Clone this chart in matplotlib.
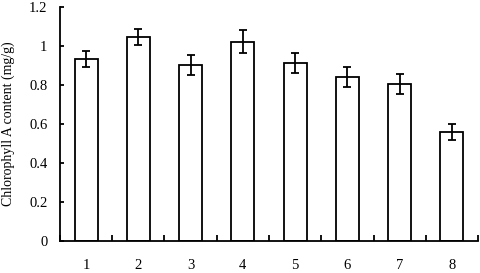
import numpy as np
import matplotlib
matplotlib.use('Agg')
import matplotlib.pyplot as plt
from matplotlib.ticker import FixedLocator

plt.rcParams['font.family'] = ['Liberation Serif', 'DejaVu Serif']

grupos = ['1', '2', '3', '4', '5', '6', '7', '8']
clorofila = [0.932, 1.045, 0.901, 1.021, 0.910, 0.839, 0.802, 0.557]
erro = [0.043, 0.042, 0.051, 0.059, 0.052, 0.052, 0.052, 0.043]

fig = plt.figure(figsize=(4.81, 2.73), dpi=100)
ax = fig.add_axes([0.1247, 0.1183, 0.8691, 0.8572])

x = np.arange(len(grupos))
ax.bar(x, clorofila, width=0.44, color='white', edgecolor='black', linewidth=1.3,
       yerr=erro, capsize=3, error_kw={'elinewidth': 1.3, 'capthick': 1.3, 'ecolor': 'black'})

ax.set_xlim(-0.5, len(grupos) - 0.5)
ax.set_ylim(0, 1.2)
ax.set_yticks([0, 0.2, 0.4, 0.6, 0.8, 1.0, 1.2])
ax.set_yticklabels(['0', '0.2', '0.4', '0.6', '0.8', '1', '1.2'])
ax.set_xticks(x)
ax.set_xticklabels(grupos)
ax.xaxis.set_minor_locator(FixedLocator(np.arange(-0.5, len(grupos), 1.0)))

ax.tick_params(axis='x', which='major', length=0, pad=13, labelsize=10.5)
ax.tick_params(axis='x', which='minor', direction='in', length=4, width=1.3)
ax.tick_params(axis='y', direction='in', length=3, width=1.3, pad=9, labelsize=10.5)

for lado in ['top', 'right']:
    ax.spines[lado].set_visible(False)
for lado in ['left', 'bottom']:
    ax.spines[lado].set_linewidth(1.3)

ax.set_ylabel('Chlorophyll A content (mg/g)', fontsize=10, labelpad=10)

fig.savefig('out.png', dpi=100)
